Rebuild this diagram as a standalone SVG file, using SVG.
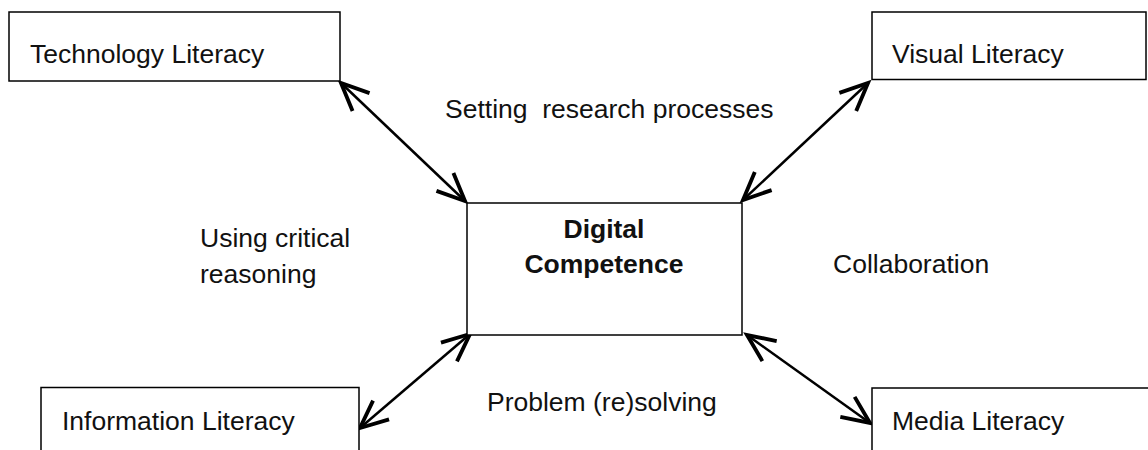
<svg xmlns="http://www.w3.org/2000/svg" width="1148" height="450" viewBox="0 0 1148 450">
  <style>
    .box { fill: #ffffff; stroke: #000000; stroke-width: 1.5; }
    .t { font-family: "Liberation Sans", Arial, sans-serif; font-size: 26.5px; fill: #111111; white-space: pre; }
    .b { font-weight: bold; text-anchor: middle; }
    .arrow { fill: none; stroke: #000000; stroke-width: 2.5; marker-start: url(#ah); marker-end: url(#ah); }
  </style>
  <defs>
    <marker id="ah" markerUnits="userSpaceOnUse" markerWidth="40" markerHeight="40" refX="0" refY="0" viewBox="-22 -12 26 24" orient="auto-start-reverse" overflow="visible">
      <path d="M -18 -8 L 0 0 L -18 8" fill="none" stroke="#000000" stroke-width="2.5" stroke-linejoin="miter"/>
    </marker>
  </defs>
  <rect width="1148" height="450" fill="#ffffff"/>

  <g id="connectors">
    <line class="arrow" x1="341" y1="83" x2="465" y2="201"/>
    <line class="arrow" x1="868" y1="83" x2="743" y2="200"/>
    <line class="arrow" x1="470" y1="334" x2="360" y2="428"/>
    <line class="arrow" x1="747" y1="335" x2="870" y2="423"/>
  </g>

  <g id="technology-literacy">
    <rect class="box" x="9" y="12" width="331" height="69"/>
    <text class="t" x="30" y="63">Technology Literacy</text>
  </g>
  <g id="visual-literacy">
    <rect class="box" x="872" y="12" width="274" height="67.5"/>
    <text class="t" x="892" y="63">Visual Literacy</text>
  </g>
  <g id="digital-competence">
    <rect class="box" x="467" y="203" width="275" height="132"/>
    <text class="t b" x="604" y="238">Digital</text>
    <text class="t b" x="604" y="273">Competence</text>
  </g>
  <g id="information-literacy">
    <rect class="box" x="41" y="387.5" width="318" height="80"/>
    <text class="t" x="62" y="430">Information Literacy</text>
  </g>
  <g id="media-literacy">
    <rect class="box" x="872" y="388" width="290" height="80"/>
    <text class="t" x="892" y="430">Media Literacy</text>
  </g>

  <g id="labels">
    <text class="t" x="445" y="118">Setting  research processes</text>
    <text class="t" x="200" y="247">Using critical</text>
    <text class="t" x="200" y="283">reasoning</text>
    <text class="t" x="833" y="273">Collaboration</text>
    <text class="t" x="487" y="411">Problem (re)solving</text>
  </g>
</svg>
